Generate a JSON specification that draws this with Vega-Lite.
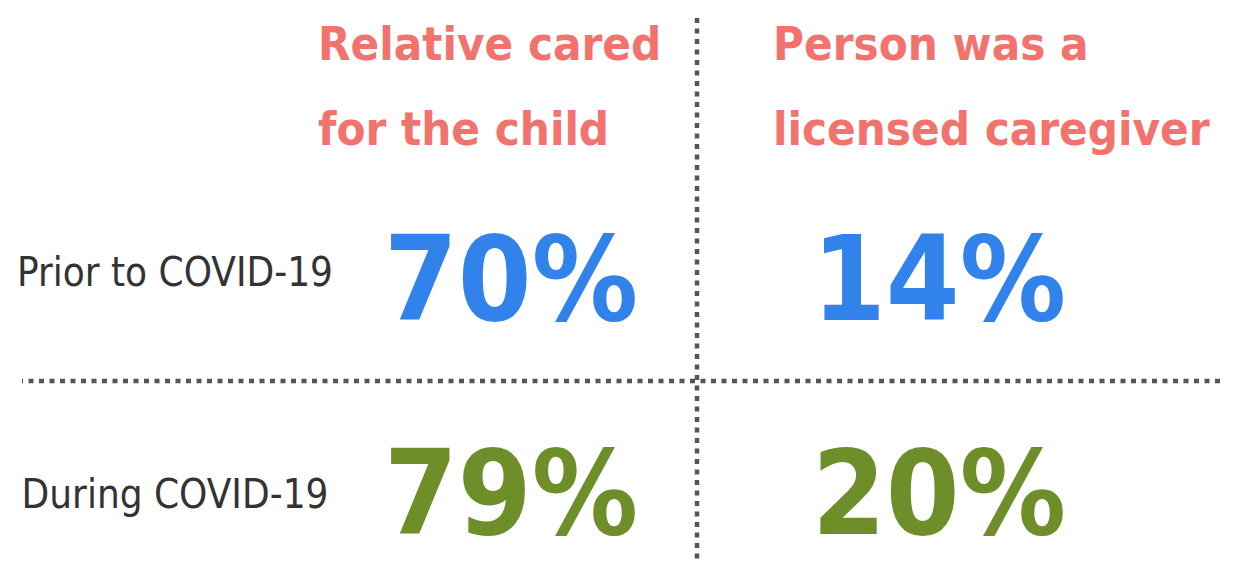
{
  "$schema": "https://vega.github.io/schema/vega-lite/v6.json",
  "width": 1198,
  "height": 542,
  "padding": {"left": 22, "top": 18, "right": 15, "bottom": 4},
  "autosize": "none",
  "background": "white",
  "config": {"view": {"stroke": null}},
  "datasets": {
    "cells": [
      {"period": "Prior to COVID-19", "measure": "Relative cared for the child", "share": 0.70},
      {"period": "Prior to COVID-19", "measure": "Person was a licensed caregiver", "share": 0.14},
      {"period": "During COVID-19", "measure": "Relative cared for the child", "share": 0.79},
      {"period": "During COVID-19", "measure": "Person was a licensed caregiver", "share": 0.20}
    ],
    "headers": [
      {"measure": "Relative cared for the child", "header": "Relative cared\nfor the child"},
      {"measure": "Person was a licensed caregiver", "header": "Person was a\nlicensed caregiver"}
    ]
  },
  "resolve": {"scale": {"x": "independent", "y": "independent"}},
  "layer": [
    {
      "data": {"values": [{}]},
      "mark": {"type": "rule", "stroke": "#555555", "strokeWidth": 4.5, "strokeDash": [5, 5.5]},
      "encoding": {
        "x": {"datum": "divider", "type": "nominal", "axis": null,
              "scale": {"type": "point", "domain": ["divider"], "range": [675, 675], "padding": 0}}
      }
    },
    {
      "data": {"values": [{}]},
      "mark": {"type": "rule", "stroke": "#555555", "strokeWidth": 4.5, "strokeDash": [5, 5.5]},
      "encoding": {
        "y": {"datum": "divider", "type": "nominal", "axis": null,
              "scale": {"type": "point", "domain": ["divider"], "range": [363, 363], "padding": 0}}
      }
    },
    {
      "data": {"name": "headers"},
      "mark": {"type": "text", "align": "left", "baseline": "alphabetic", "lineBreak": "\n", "lineHeight": 85,
               "font": "DejaVu Sans Condensed", "fontWeight": "bold", "fontSize": 47, "color": "#F2726D"},
      "encoding": {
        "x": {"field": "measure", "type": "nominal", "axis": null,
              "scale": {"type": "point", "domain": ["Relative cared for the child", "Person was a licensed caregiver"], "range": [296, 751], "padding": 0}},
        "y": {"datum": "header", "type": "nominal", "axis": null,
              "scale": {"type": "point", "domain": ["header"], "range": [42, 42], "padding": 0}},
        "text": {"field": "header", "type": "nominal"}
      }
    },
    {
      "data": {"name": "cells"},
      "transform": [{"filter": "datum.measure === 'Relative cared for the child'"}],
      "mark": {"type": "text", "align": "center", "baseline": "alphabetic",
               "font": "DejaVu Sans Condensed", "fontSize": 40, "color": "#333333"},
      "encoding": {
        "x": {"datum": "label", "type": "nominal", "axis": null,
              "scale": {"type": "point", "domain": ["label"], "range": [153, 153], "padding": 0}},
        "y": {"field": "period", "type": "nominal", "axis": null,
              "scale": {"type": "point", "domain": ["Prior to COVID-19", "During COVID-19"], "range": [268, 490], "padding": 0}},
        "text": {"field": "period", "type": "nominal"}
      }
    },
    {
      "data": {"name": "cells"},
      "mark": {"type": "text", "align": "center", "baseline": "alphabetic",
               "font": "DejaVu Sans Condensed", "fontWeight": "bold", "fontSize": 118},
      "encoding": {
        "x": {"field": "measure", "type": "nominal", "axis": null,
              "scale": {"type": "point", "domain": ["Relative cared for the child", "Person was a licensed caregiver"], "range": [489, 917], "padding": 0}},
        "y": {"field": "period", "type": "nominal", "axis": null,
              "scale": {"type": "point", "domain": ["Prior to COVID-19", "During COVID-19"], "range": [302, 516], "padding": 0}},
        "color": {"field": "period", "type": "nominal", "legend": null,
                  "scale": {"domain": ["Prior to COVID-19", "During COVID-19"], "range": ["#3183EB", "#6E8E2A"]}},
        "text": {"field": "share", "type": "quantitative", "format": ".0%"}
      }
    }
  ]
}
